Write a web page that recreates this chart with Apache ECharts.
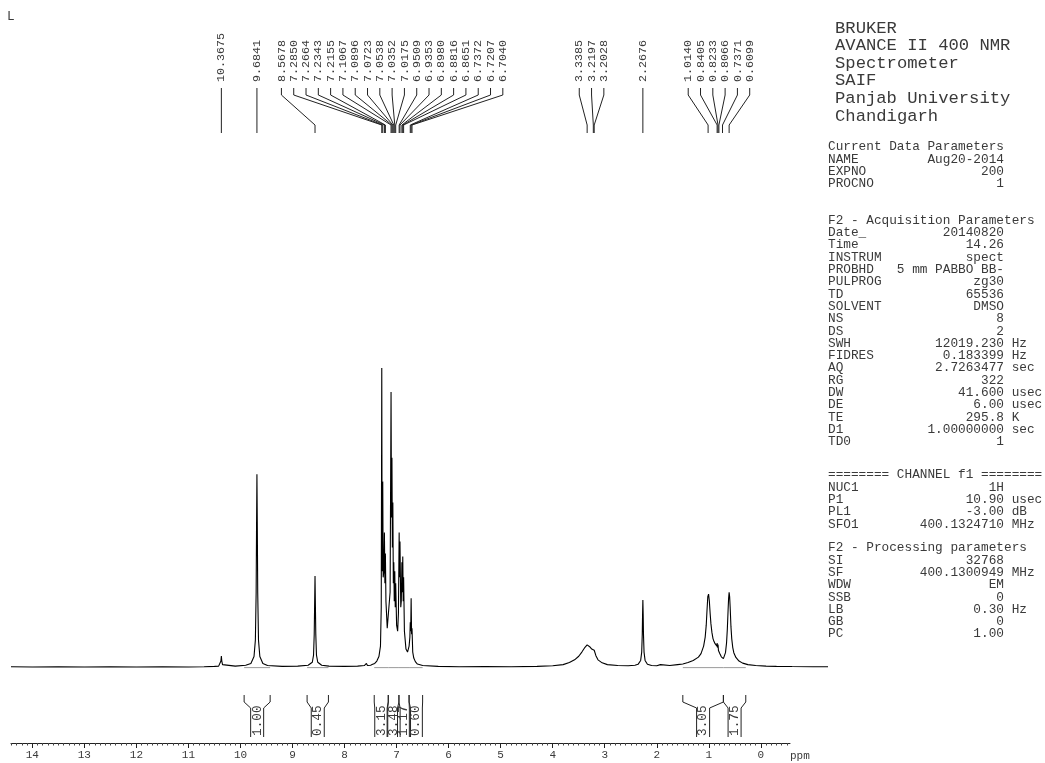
<!DOCTYPE html>
<html>
<head>
<meta charset="utf-8">
<script src="https://cdn.jsdelivr.net/npm/echarts@6/dist/echarts.min.js"></script>
<style>
html,body{margin:0;padding:0;background:#fff;}
#main{width:1045px;height:763px;}
</style>
</head>
<body>
<div id="main"></div>
<script>
// 1H NMR trace: [chemical shift (ppm), intensity (% of tallest line)]
const spectrum = [
  [14.41,0.1],[14.0,0.0],[13.5,0.1],[13.0,0.0],[12.5,0.1],[12.0,0.0],[11.5,0.1],[11.0,0.0],[10.7,0.1],[10.5,0.2],
  [10.42,0.3],[10.39,0.8],[10.376,2.0],[10.3675,3.7],[10.359,2.0],[10.345,0.8],[10.32,0.3],
  [10.1,0.3],[9.9,0.6],[9.80,1.2],[9.74,3.5],[9.714,9],[9.699,25],[9.692,45],[9.6841,64.5],[9.676,45],[9.669,25],[9.654,9],[9.628,3.5],[9.57,1.2],[9.48,0.5],
  [9.2,0.2],[8.9,0.3],[8.70,0.6],[8.62,1.6],[8.596,4],[8.583,11],[8.576,20],[8.5678,30.4],[8.56,20],[8.553,11],[8.54,4],[8.515,1.6],[8.44,0.6],[8.3,0.3],
  [8.0,0.2],[7.75,0.3],[7.62,0.5],[7.58,1.2],[7.56,0.5],[7.53,1.0],[7.50,0.6],[7.46,0.9],[7.42,1.2],[7.38,2.0],[7.34,3.5],[7.31,7],[7.295,20],
  [7.285,100],[7.278,32],[7.272,36],[7.2664,62],[7.258,30],[7.245,32],[7.2343,45],[7.225,28],[7.2155,38],[7.205,22],[7.18,13],[7.15,13],[7.125,25],
  [7.1067,92],[7.098,50],[7.0896,70],[7.081,40],[7.0723,55],[7.063,28],[7.0538,35],[7.045,22],[7.0352,32],[7.026,20],[7.0175,28],[7.0,14],[6.98,12],
  [6.965,18],[6.9509,45],[6.943,30],[6.9353,42],[6.92,20],[6.91,22],[6.898,35],[6.89,25],[6.8816,37],[6.873,22],[6.8651,30],[6.85,12],[6.82,6],[6.79,5],
  [6.76,7],[6.745,10],[6.7372,15],[6.729,12],[6.7207,23],[6.712,11],[6.704,13],[6.69,5],[6.67,3],[6.64,1.8],[6.6,1.0],[6.5,0.5],[6.2,0.2],
  [5.8,0.1],[5.3,0.15],[4.8,0.1],[4.3,0.2],[4.0,0.4],[3.8,0.8],[3.68,1.5],[3.58,2.4],[3.5,3.6],[3.44,5.0],[3.38,6.6],[3.3385,7.4],[3.29,6.8],[3.25,6.0],
  [3.2197,6.2],[3.2028,5.6],[3.17,3.8],[3.13,2.4],[3.05,1.4],[2.95,0.8],[2.75,0.5],[2.55,0.4],[2.42,0.6],
  [2.36,0.9],[2.31,2.2],[2.29,5],[2.279,11],[2.274,17],[2.2676,22.4],[2.261,17],[2.256,11],[2.245,5],[2.225,2.2],[2.18,0.9],[2.1,0.5],[2.0,0.4],
  [1.93,0.8],[1.9,0.5],[1.75,0.5],[1.6,0.8],[1.5,1.0],[1.4,1.5],[1.3,2.2],[1.2,3.3],[1.15,4.5],[1.10,7],[1.07,10],[1.05,14],[1.035,19],[1.02,23.5],
  [1.005,24.4],[0.99,22],[0.975,18],[0.96,14.5],[0.94,11.5],[0.92,9.5],[0.90,8.5],[0.88,7.8],[0.86,7.3],[0.845,7.0],[0.8405,8.0],[0.835,6.5],
  [0.8233,7.5],[0.815,5.5],[0.8066,6.0],[0.79,4.5],[0.76,3.4],[0.7371,3.0],[0.72,2.8],[0.70,3.3],[0.68,4.8],[0.66,8],[0.645,12.5],[0.63,19],
  [0.62,23],[0.6099,25],[0.60,23.5],[0.59,20],[0.575,13.5],[0.56,9.5],[0.54,6.5],[0.52,4.8],[0.48,3.2],[0.42,2.0],[0.35,1.3],[0.25,0.8],
  [0.1,0.5],[-0.1,0.3],[-0.3,0.2],[-0.6,0.15],[-1.0,0.1],[-1.29,0.1]
];

// Picked peak positions (ppm)
const peakShifts = [
  10.3675, 9.6841, 8.5678, 7.2850, 7.2664, 7.2343, 7.2155, 7.1067, 7.0896, 7.0723,
  7.0538, 7.0352, 7.0175, 6.9509, 6.9353, 6.8980, 6.8816, 6.8651, 6.7372, 6.7207,
  6.7040, 3.3385, 3.2197, 3.2028, 2.2676, 1.0140, 0.8405, 0.8233, 0.8066, 0.7371, 0.6099
];

// Integration regions (ppm) and their integrals
const integralFrom   = [9.93, 8.72, 7.43, 7.16, 6.955, 6.76, 1.50, 0.72];
const integralTo     = [9.43, 8.31, 7.16, 6.955, 6.76, 6.50, 0.72, 0.29];
const integralValues = ['1.00', '0.45', '3.15', '3.48', '1.17', '0.60', '3.05', '1.75'];

// Axis ticks (ppm)
const axisTicks = [0, 1, 2, 3, 4, 5, 6, 7, 8, 9, 10, 11, 12, 13, 14];
const tickLabels = ['0', '1', '2', '3', '4', '5', '6', '7', '8', '9', '10', '11', '12', '13', '14'];

// Instrument block
const titleLines = ['BRUKER', 'AVANCE II 400 NMR', 'Spectrometer', 'SAIF', 'Panjab University', 'Chandigarh'];
const currentParams = [['NAME', 'Aug20-2014'], ['EXPNO', '200'], ['PROCNO', '1']];
const acquisitionParams = [
  ['Date_', '20140820'], ['Time', '14.26'], ['INSTRUM', 'spect'], ['PROBHD', '5 mm PABBO BB-'],
  ['PULPROG', 'zg30'], ['TD', '65536'], ['SOLVENT', 'DMSO'], ['NS', '8'], ['DS', '2'],
  ['SWH', '12019.230', 'Hz'], ['FIDRES', '0.183399', 'Hz'], ['AQ', '2.7263477', 'sec'], ['RG', '322'],
  ['DW', '41.600', 'usec'], ['DE', '6.00', 'usec'], ['TE', '295.8', 'K'], ['D1', '1.00000000', 'sec'], ['TD0', '1']
];
const channelParams = [['NUC1', '1H'], ['P1', '10.90', 'usec'], ['PL1', '-3.00', 'dB'], ['SFO1', '400.1324710', 'MHz']];
const processingParams = [
  ['SI', '32768'], ['SF', '400.1300949', 'MHz'], ['WDW', 'EM'], ['SSB', '0'], ['LB', '0.30', 'Hz'], ['GB', '0'], ['PC', '1.00']
];

const MONO = '"Liberation Mono", "DejaVu Sans Mono", monospace';
const INK = '#3a3a3a';

const minorTicks = [];
for (let i = -5; i <= 144; i++) { if (i % 10 !== 0) minorTicks.push(i / 10); }

const chart = echarts.init(document.getElementById('main'), null, { renderer: 'canvas' });

const integralSeries = integralFrom.map((f, i) => ({
  type: 'line', xAxisIndex: 0, yAxisIndex: 0, showSymbol: false, silent: true, z: 1,
  lineStyle: { color: '#9a9a9a', width: 1 },
  data: [[f, -0.2], [integralTo[i], -0.2]]
}));

chart.setOption({
  backgroundColor: '#ffffff',
  animation: false,
  grid: [
    { left: 11, right: 217, top: 368, bottom: 90 },
    { left: 11, right: 255, top: 368, bottom: 90 }
  ],
  xAxis: [
    { type: 'value', gridIndex: 0, min: -1.29, max: 14.41, inverse: true, show: false },
    {
      type: 'value', gridIndex: 1, position: 'bottom', min: -0.56, max: 14.41, inverse: true, offset: 70,
      axisLine: { show: true, onZero: false, lineStyle: { color: '#222', width: 1 } },
      axisTick: { show: true, customValues: axisTicks, length: 5, inside: false, lineStyle: { color: '#222' } },
      axisLabel: {
        customValues: axisTicks, margin: 7, color: '#3a3a3a', fontFamily: MONO, fontSize: 11,
        formatter: v => tickLabels[axisTicks.indexOf(Math.round(v))]
      },
      splitLine: { show: false }
    },
    {
      type: 'value', gridIndex: 1, position: 'bottom', min: -0.56, max: 14.41, inverse: true, offset: 70,
      axisLine: { show: false, onZero: false },
      axisTick: { show: true, customValues: minorTicks, length: 2.5, lineStyle: { color: '#444' } },
      axisLabel: { show: false },
      splitLine: { show: false }
    }
  ],
  yAxis: [
    { type: 'value', gridIndex: 0, min: -2, max: 100, show: false },
    { type: 'value', gridIndex: 1, min: -2, max: 100, show: false }
  ],
  series: integralSeries.concat([{
    type: 'line', xAxisIndex: 0, yAxisIndex: 0, showSymbol: false, silent: true, z: 3,
    lineStyle: { color: '#000', width: 1.1 },
    data: spectrum
  }])
});

// Shift -> pixel through the spectrum axis
const px = ppm => chart.convertToPixel({ xAxisIndex: 0 }, ppm);

const graphics = [];
const text = (str, x, y, size, opts) => graphics.push(Object.assign({
  type: 'text', x: x, y: y, silent: true,
  style: { text: str, font: size + 'px ' + MONO, fill: INK, textAlign: 'left', textVerticalAlign: 'middle' }
}, opts || {}));
const line = (pts, color) => graphics.push({
  type: 'polyline', silent: true, shape: { points: pts },
  style: { stroke: color || '#222', lineWidth: 1, fill: null }
});

// Peak labels fanned out over their lines
const LABEL_STEP = 12.3;
const shifts = peakShifts.slice().sort((a, b) => b - a);
let groups = shifts.map(p => ({ peaks: [p] }));
const place = g => {
  const xs = g.peaks.map(px);
  g.center = xs.reduce((a, b) => a + b, 0) / xs.length;
  g.left = g.center - (xs.length - 1) / 2 * LABEL_STEP;
  g.right = g.center + (xs.length - 1) / 2 * LABEL_STEP;
};
groups.forEach(place);
let merged = true;
while (merged) {
  merged = false;
  for (let i = 0; i < groups.length - 1; i++) {
    if (groups[i + 1].left - groups[i].right < LABEL_STEP) {
      groups[i].peaks = groups[i].peaks.concat(groups[i + 1].peaks);
      groups.splice(i + 1, 1);
      place(groups[i]);
      merged = true;
      break;
    }
  }
}
groups.forEach(g => {
  g.peaks.forEach((p, j) => {
    const lx = g.left + j * LABEL_STEP;
    const x = px(p);
    text(p.toFixed(4), lx, 82, 11.7, { rotation: Math.PI / 2 });
    line([[lx, 88], [lx, 95], [x, 125], [x, 133]]);
  });
});

// Integral brackets and values
integralFrom.forEach((f, i) => {
  const xl = px(f), xr = px(integralTo[i]);
  const c = (xl + xr) / 2, il = c - 6.5, ir = c + 6.5;
  line([[xl, 695], [xl, 702], [il, 708], [il, 737]]);
  line([[xr, 695], [xr, 702], [ir, 708], [ir, 737]]);
  text(integralValues[i], c, 736, 12.75, { rotation: Math.PI / 2 });
});

// Axis unit
text('ppm', 790, 756, 11);
// Corner mark
text('L', 7, 17, 12.75);

// Instrument / parameter listing
titleLines.forEach((s, i) => text(s, 835, 28 + i * 17.6, 17.2));
const row = r => {
  const pad = Math.max(1, 23 - r[0].length - r[1].length);
  return r[0] + ' '.repeat(pad) + r[1] + (r[2] ? ' ' + r[2] : '');
};
const ROW = 12.3, X0 = 828;
const block = (head, rows, y0) => {
  text(head, X0, y0, 12.75);
  rows.forEach((r, i) => text(row(r), X0, y0 + (i + 1) * ROW, 12.75));
};
block('Current Data Parameters', currentParams, 147);
block('F2 - Acquisition Parameters', acquisitionParams, 220.5);
block('======== CHANNEL f1 ========', channelParams, 475);
block('F2 - Processing parameters', processingParams, 548);

chart.setOption({ graphic: graphics });
</script>
</body>
</html>
